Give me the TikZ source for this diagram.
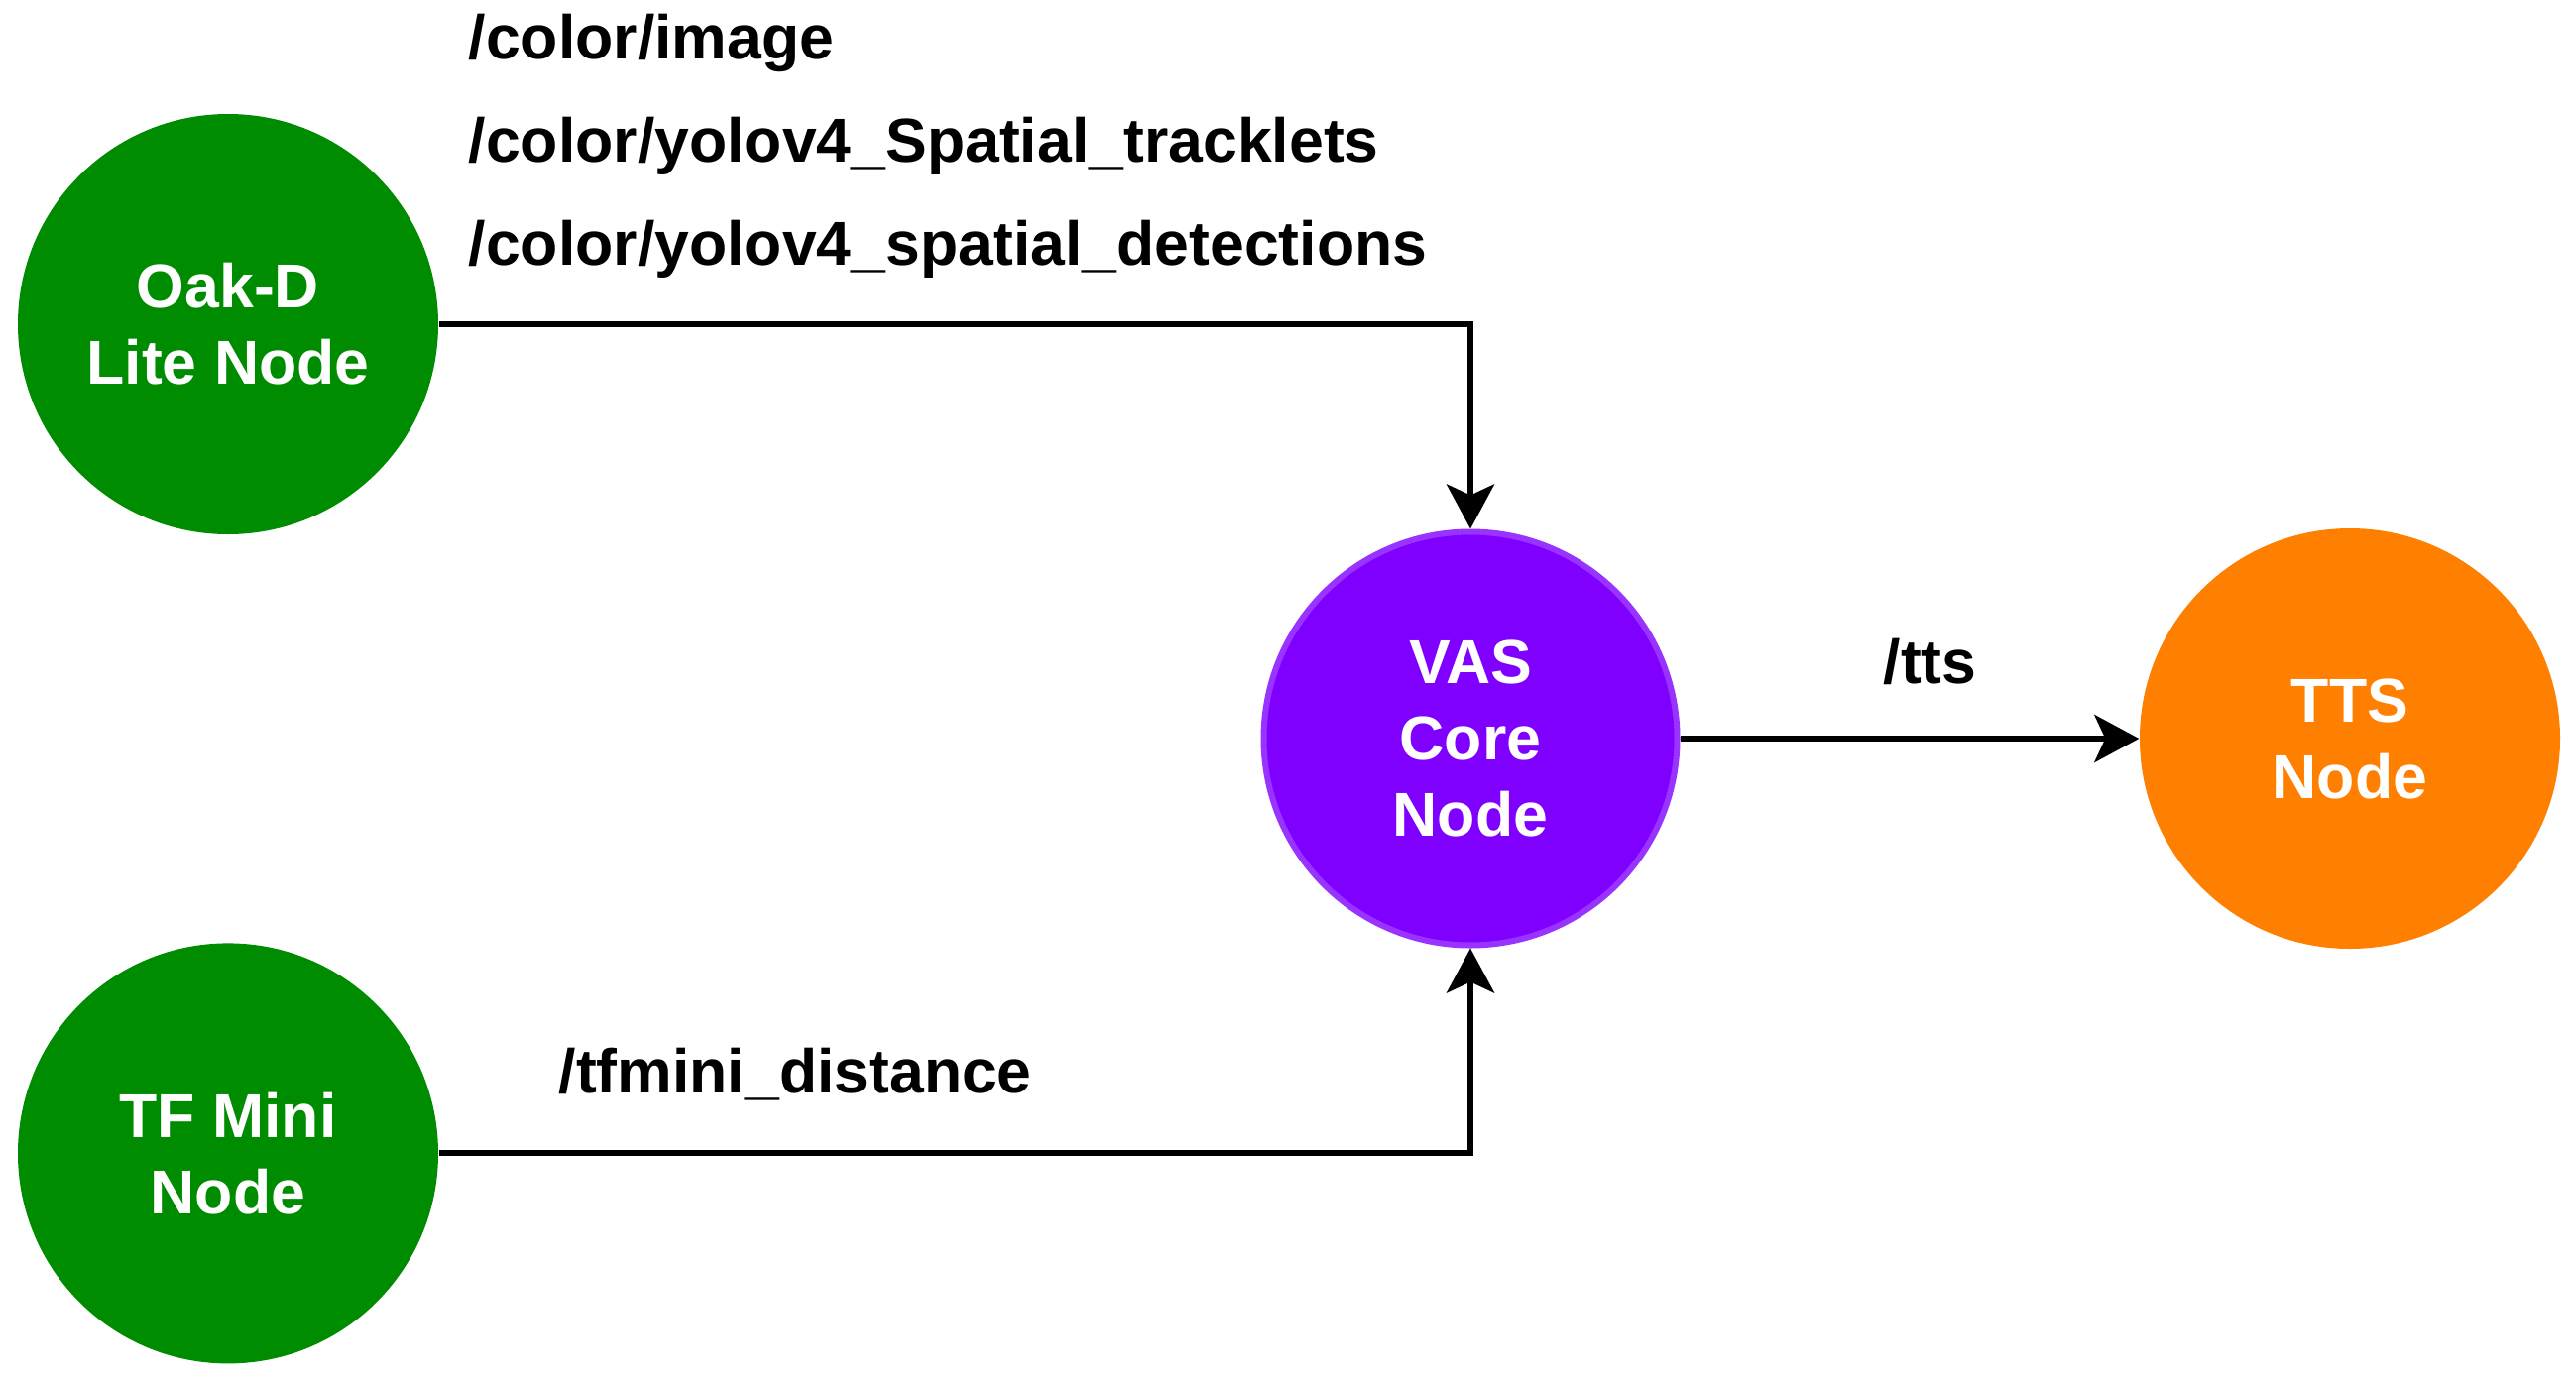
\documentclass[tikz,border=0pt]{standalone}
\usepackage{fontspec}
\setmainfont{Liberation Sans}
\usepackage{xcolor}
\usetikzlibrary{arrows.meta,positioning}
\definecolor{rosgreen}{HTML}{008C00}
\definecolor{corepurple}{HTML}{7F00FF}
\definecolor{coreedge}{HTML}{9933FF}
\definecolor{ttsorange}{HTML}{FF8000}

\begin{document}
\begin{tikzpicture}[
  every node/.style={font=\fontsize{17.8}{21.9}\selectfont\bfseries},
  rosnode/.style={circle, minimum size=4.24cm, inner sep=0pt, align=center,
                  text=white},
  topic/.style={anchor=base west, inner sep=0pt, text=black},
  arr/.style={-{Stealth[length=0.45cm, width=0.48cm, inset=0.11cm]},
              line width=0.06cm, black}
]
\fill[white] (0,0) rectangle (25.98,-13.88);
\useasboundingbox (0,0) rectangle (25.98,-13.88);

% ROS nodes
\node[rosnode, fill=rosgreen] (oak) at (2.30,-3.27) {Oak-D\\Lite Node};
\node[rosnode, fill=rosgreen, below=4.11cm of oak] (tfmini) {TF Mini\\Node};
\node[rosnode, fill=corepurple, draw=coreedge, line width=0.06cm,
      minimum size=4.17cm] (vas) at (14.83,-7.45) {VAS\\Core\\Node};
\node[rosnode, fill=ttsorange] (tts) at (23.70,-7.45) {TTS\\Node};

% topics
\node[topic] (topicImage) at (4.72,-0.59) {/color/image};
\node[topic, below=1.04cm of topicImage.base west, anchor=base west]
  (topicTracklets) {/color/yolov4\_Spatial\_tracklets};
\node[topic, below=1.04cm of topicTracklets.base west, anchor=base west]
  (topicDetections) {/color/yolov4\_spatial\_detections};
\node[topic] (topicTts) at (18.99,-6.89) {/tts};
\node[topic] (topicTf) at (5.63,-11.02) {/tfmini\_distance};

\draw[arr] (oak.east) -| (vas.north);
\draw[arr] (tfmini.east) -| (vas.south);
\draw[arr] (vas) -- (tts);
\end{tikzpicture}
\end{document}
